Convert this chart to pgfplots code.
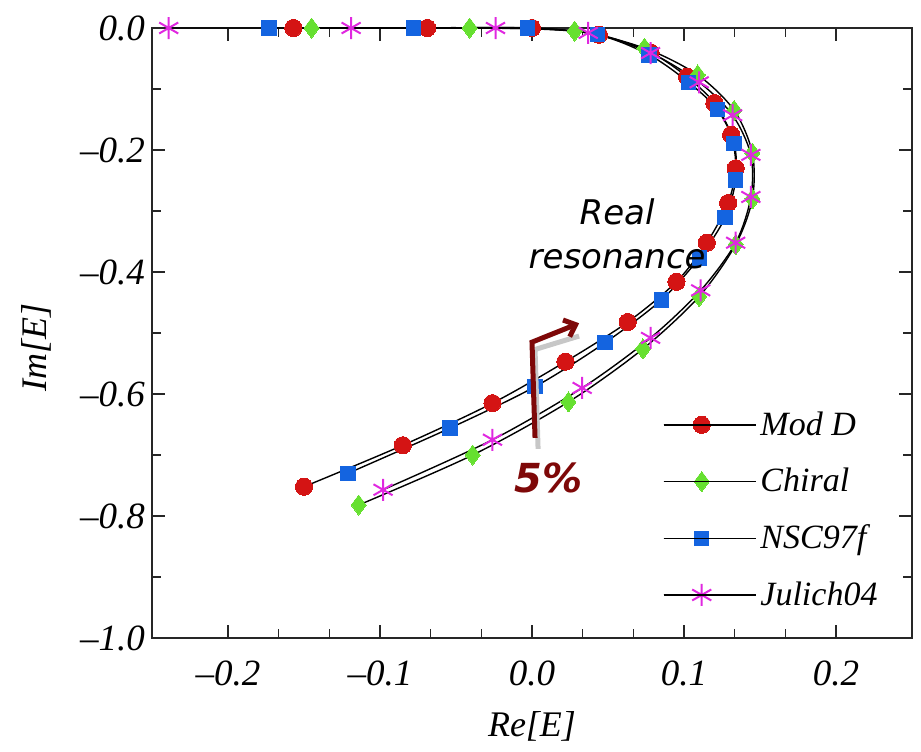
\documentclass[border=0pt]{standalone}
\usepackage{fontspec}
\setmainfont{Liberation Serif}
\newfontfamily\annfont{DejaVu Sans}
\usepackage{pgfplots}
\pgfplotsset{compat=1.18}
\usetikzlibrary{arrows.meta}

\definecolor{cMod}{HTML}{D41414}
\definecolor{cChi}{HTML}{66E030}
\definecolor{cNsc}{HTML}{1464E0}
\definecolor{cJul}{HTML}{E028E0}
\definecolor{cAnn}{HTML}{7E0808}

\begin{document}
\begin{tikzpicture}
\begin{axis}[
    set layers,
    scale only axis,
    width=380pt, height=305pt,
    xmin=-0.25, xmax=0.25,
    ymin=-1.0, ymax=0.0,
    clip=false,
    axis line style={line width=0.8pt, black!85},
    xtick={-0.2,-0.1,0,0.1,0.2},
    xticklabels={–0.2,–0.1,0.0,0.1,0.2},
    ytick={0,-0.2,-0.4,-0.6,-0.8,-1.0},
    yticklabels={0.0,–0.2,–0.4,–0.6,–0.8,–1.0},
    minor x tick num=2,
    minor y tick num=1,
    tick align=inside,
    major tick length=6.5pt,
    minor tick length=4.5pt,
    tick style={line width=0.8pt, black!85},
    tick label style={font=\fontsize{18.5}{18.5}\selectfont\itshape},
    xticklabel style={yshift=-8pt},
    xlabel={Re[E]}, ylabel={Im[E]},
    label style={font=\fontsize{18}{18}\selectfont\itshape},
    xlabel style={at={(rel axis cs:0.5,0)}, anchor=center, yshift=-44pt},
    ylabel style={at={(rel axis cs:0,0.5)}, anchor=center, yshift=58pt, xshift=-7pt},
    legend style={at={(rel axis cs:0.664,0.385)}, anchor=north west, draw=none, fill=none,
      font=\fontsize{17}{17}\selectfont\itshape, row sep=11pt},
    legend cell align=left,
    legend image code/.code={
      \draw[mark repeat=2,mark phase=2,#1] plot coordinates {(0pt,0pt) (19pt,0pt) (38pt,0pt)};
      \path (0pt,0pt) -- (46pt,0pt);
    },
]
\coordinate (SW) at (rel axis cs:0,0);
\coordinate (NE) at (rel axis cs:1,1);

\addplot[black, line width=0.7pt, smooth, mark=*, mark size=4.3pt,
  mark options={draw=cMod, fill=cMod, line width=0pt}] coordinates {
  (-0.157,0) (-0.069,0) (0.000,0) (0.044,-0.011) (0.078,-0.040) (0.102,-0.080)
  (0.120,-0.123) (0.131,-0.175) (0.134,-0.230) (0.129,-0.287) (0.115,-0.352)
  (0.095,-0.416) (0.063,-0.482) (0.022,-0.547) (-0.026,-0.615) (-0.085,-0.684)
  (-0.150,-0.752)};
\addlegendentry{Mod D}

\addplot[black, line width=0.7pt, smooth, mark=diamond*, mark size=5pt,
  mark options={draw=cChi, fill=cChi, line width=0pt}] coordinates {
  (-0.145,0) (-0.041,0) (0.028,-0.005) (0.074,-0.033) (0.109,-0.077)
  (0.133,-0.135) (0.145,-0.205) (0.145,-0.280) (0.134,-0.355) (0.110,-0.440)
  (0.073,-0.526) (0.024,-0.613) (-0.039,-0.700) (-0.114,-0.782)};
\addlegendentry{Chiral}

\addplot[black, line width=0.7pt, smooth, mark=square*, mark size=3.6pt,
  mark options={draw=cNsc, fill=cNsc, line width=0pt}] coordinates {
  (-0.173,0) (-0.078,0) (-0.003,0) (0.043,-0.011) (0.077,-0.044) (0.103,-0.089)
  (0.122,-0.134) (0.133,-0.189) (0.134,-0.249) (0.127,-0.311) (0.110,-0.377)
  (0.085,-0.446) (0.048,-0.516) (0.002,-0.588) (-0.054,-0.656) (-0.121,-0.730)};
\addlegendentry{NSC97f}

\addplot[black, line width=0.7pt, smooth, mark=asterisk, mark size=5.5pt,
  mark options={draw=cJul, line width=1pt}] coordinates {
  (-0.239,0) (-0.119,0) (-0.024,0) (0.037,-0.008) (0.078,-0.041) (0.110,-0.089)
  (0.132,-0.143) (0.144,-0.208) (0.144,-0.277) (0.134,-0.352) (0.111,-0.430)
  (0.078,-0.508) (0.033,-0.590) (-0.026,-0.675) (-0.098,-0.757)};
\addlegendentry{Julich04}

% annotation, on top of the marks
\begin{pgfonlayer}{axis foreground}
\draw[black!22, line width=2.5pt] (axis cs:0.004,-0.690) -- (axis cs:0.002,-0.527) -- (axis cs:0.031,-0.505);
\draw[cAnn, line width=2.5pt, -{Straight Barb[length=5pt,width=9pt]}]
  (axis cs:0.002,-0.672) -- (axis cs:0.000,-0.515) -- (axis cs:0.031,-0.484);
\node[font=\annfont\itshape\fontsize{17}{22}\selectfont, align=center, inner sep=0pt]
  at (axis cs:0.056,-0.337) {Real\\resonance};
\node[font=\annfont\bfseries\itshape\fontsize{20}{20}\selectfont, text=cAnn]
  at (axis cs:0.011,-0.738) {5\%};
\end{pgfonlayer}
\end{axis}
\pgfresetboundingbox
\path[use as bounding box] ([xshift=-76pt,yshift=-56.5pt]SW) rectangle ([xshift=4.5pt,yshift=14pt]NE);
\end{tikzpicture}
\end{document}
